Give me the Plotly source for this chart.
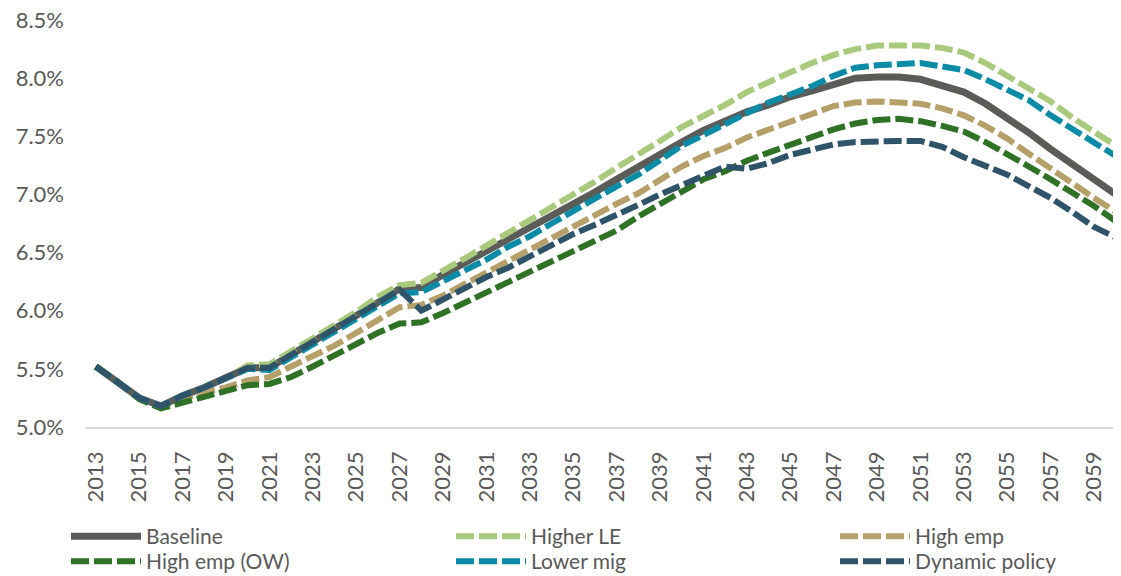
import plotly.graph_objects as go

years = list(range(2013, 2061))

baseline = [5.52, 5.39, 5.25, 5.18, 5.27, 5.34, 5.42, 5.51, 5.51, 5.62,
            5.73, 5.84, 5.95, 6.07, 6.19, 6.20, 6.31, 6.41, 6.51, 6.61,
            6.71, 6.81, 6.91, 7.02, 7.13, 7.24, 7.34, 7.45, 7.55, 7.63,
            7.71, 7.77, 7.84, 7.89, 7.95, 8.00, 8.01, 8.01, 7.99, 7.94,
            7.88, 7.78, 7.66, 7.53, 7.39, 7.26, 7.13, 7.00]

higher_le = [5.52, 5.39, 5.25, 5.18, 5.27, 5.34, 5.42, 5.53, 5.54, 5.65,
             5.76, 5.87, 5.99, 6.12, 6.22, 6.24, 6.34, 6.45, 6.56, 6.67,
             6.78, 6.88, 6.99, 7.11, 7.23, 7.34, 7.46, 7.58, 7.67, 7.77,
             7.88, 7.97, 8.05, 8.13, 8.20, 8.25, 8.28, 8.28, 8.28, 8.26,
             8.22, 8.13, 8.02, 7.92, 7.80, 7.66, 7.54, 7.42]

high_emp = [5.52, 5.39, 5.25, 5.18, 5.24, 5.30, 5.34, 5.40, 5.43, 5.52,
            5.60, 5.70, 5.81, 5.92, 6.03, 6.05, 6.13, 6.23, 6.33, 6.43,
            6.52, 6.62, 6.72, 6.82, 6.92, 7.01, 7.13, 7.24, 7.33, 7.40,
            7.49, 7.56, 7.63, 7.70, 7.76, 7.79, 7.80, 7.79, 7.78, 7.74,
            7.68, 7.59, 7.48, 7.35, 7.22, 7.10, 6.97, 6.85]

high_emp_ow = [5.52, 5.39, 5.24, 5.16, 5.21, 5.26, 5.31, 5.36, 5.37, 5.43,
               5.52, 5.62, 5.71, 5.81, 5.89, 5.90, 5.98, 6.07, 6.15, 6.24,
               6.34, 6.43, 6.52, 6.61, 6.69, 6.81, 6.92, 7.03, 7.13, 7.20,
               7.29, 7.36, 7.43, 7.50, 7.56, 7.61, 7.64, 7.65, 7.63, 7.59,
               7.54, 7.45, 7.35, 7.24, 7.13, 7.02, 6.90, 6.77]

lower_mig = [5.52, 5.39, 5.25, 5.18, 5.27, 5.34, 5.42, 5.50, 5.49, 5.60,
             5.71, 5.82, 5.93, 6.05, 6.15, 6.16, 6.25, 6.34, 6.44, 6.55,
             6.64, 6.75, 6.86, 6.96, 7.07, 7.17, 7.29, 7.42, 7.51, 7.61,
             7.70, 7.79, 7.86, 7.93, 8.02, 8.09, 8.11, 8.12, 8.13, 8.10,
             8.07, 7.99, 7.90, 7.81, 7.68, 7.56, 7.44, 7.33]

dynamic_policy = [5.52, 5.39, 5.25, 5.18, 5.27, 5.34, 5.42, 5.51, 5.51, 5.62,
                  5.73, 5.84, 5.95, 6.07, 6.18, 6.00, 6.10, 6.19, 6.29, 6.37,
                  6.47, 6.56, 6.66, 6.74, 6.82, 6.91, 7.00, 7.08, 7.17, 7.24,
                  7.22, 7.27, 7.34, 7.38, 7.43, 7.45, 7.46, 7.46, 7.46, 7.41,
                  7.32, 7.24, 7.17, 7.07, 6.97, 6.85, 6.72, 6.63]

tick_years = list(range(2013, 2060, 2))
y_ticks = [5.0, 5.5, 6.0, 6.5, 7.0, 7.5, 8.0, 8.5]
y_tick_labels = ["5.0%", "5.5%", "6.0%", "6.5%", "7.0%", "7.5%", "8.0%", "8.5%"]

FONT = "Lato"
TXT = "#595959"
DASH = "18px,5px"

# (name, values, colour, dash, legend column, legend row)
series = [
    ("Baseline", baseline, "#5B5B57", None, 0, 0),
    ("Higher LE", higher_le, "#A9C97C", DASH, 1, 0),
    ("High emp", high_emp, "#B5A06A", DASH, 2, 0),
    ("High emp (OW)", high_emp_ow, "#2F7125", DASH, 0, 1),
    ("Lower mig", lower_mig, "#0B8BA5", DASH, 1, 1),
    ("Dynamic policy", dynamic_policy, "#2F5469", DASH, 2, 1),
]

# page body has an 8px margin; figure is sized/offset to compensate
OFF = 8
FIG_W, FIG_H = 1121 - OFF, 576 - OFF
M_L, M_T, M_B, M_R = 85 - OFF, 20 - OFF, 149, 0
plot_w = FIG_W - M_L - M_R
plot_h = FIG_H - M_T - M_B
x_end = 2012.5 + plot_w / 21.7

col_px = [66, 451, 835]
row_top_px = [516, 541]

fig = go.Figure()
layout_legends = {}
for i, (name, vals, color, dash, col, row) in enumerate(series):
    line = dict(color=color, width=7 if dash is None else 6)
    if dash:
        line["dash"] = dash
    lg = "legend" if i == 0 else f"legend{i + 1}"
    fig.add_trace(go.Scatter(x=years, y=vals, name=name, mode="lines",
                             line=line, legend=lg, hoverinfo="skip"))
    layout_legends[lg] = dict(
        orientation="v", yanchor="top", xanchor="left",
        x=(col_px[col] - 85) / plot_w,
        y=(427 - row_top_px[row]) / plot_h,
        font=dict(family=FONT, size=21, color=TXT),
        itemwidth=70, bgcolor="rgba(0,0,0,0)")

fig.update_layout(
    width=FIG_W, height=FIG_H,
    margin=dict(l=M_L, r=M_R, t=M_T, b=M_B, autoexpand=False),
    paper_bgcolor="white", plot_bgcolor="white",
    font=dict(family=FONT, color=TXT),
    showlegend=True,
    xaxis=dict(range=[2012.5, x_end], tickmode="array", tickvals=tick_years,
               ticktext=[str(t) for t in tick_years], tickangle=-90,
               showgrid=False, zeroline=False, showline=True,
               linecolor="#D9D9D9", linewidth=1.5, ticks="",
               ticklabelstandoff=14, automargin=False,
               ticklabeloverflow="allow",
               tickfont=dict(family=FONT, size=22, color=TXT)),
    yaxis=dict(range=[5.0, 8.5], tickmode="array", tickvals=y_ticks,
               ticktext=y_tick_labels, showgrid=False,
               zeroline=False, showline=False, ticks="",
               ticklabelstandoff=20, automargin=False,
               ticklabeloverflow="allow",
               tickfont=dict(family=FONT, size=22, color=TXT)),
    **layout_legends,
)

fig.write_html("out.html")
